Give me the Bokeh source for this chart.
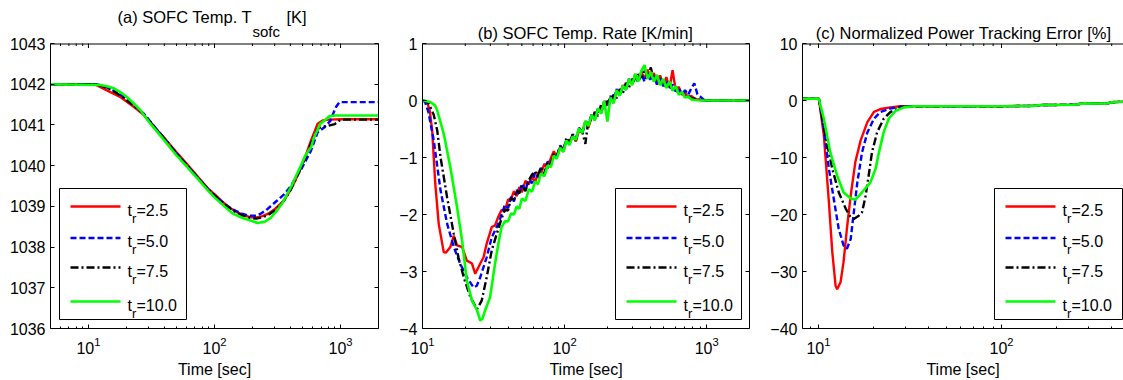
from bokeh.plotting import figure
from bokeh.layouts import row
from bokeh.models import (Range1d, LinearScale, LinearAxis, FixedTicker,
                          Label, CustomJSTickFormatter)
from bokeh.embed import file_html
from bokeh.resources import INLINE

FONT = "Liberation Sans"
SERIES_COLORS = ["#ff0000", "#0000ff", "#000000", "#00ff00"]
SERIES_DASH = ["solid", "6 3", "8 3 2 3", "solid"]
SERIES_WIDTH = [2.4, 2.4, 2.4, 2.6]
LEGEND_VALUES = ["2.5", "5.0", "7.5", "10.0"]

# ---------------- panel (a): SOFC temperature [K] ----------------
a_t_red = [5, 11, 11.7, 14, 18, 23, 27.6, 32, 40, 50, 60, 75, 90, 100, 115, 130, 150, 175, 195,
           215, 240, 270, 298, 330, 358, 404, 440, 485, 530, 583, 625, 658, 721, 800, 1000, 2000]
a_v_red = [1042, 1042, 1041.97, 1041.85, 1041.68, 1041.44, 1041.24, 1041.0, 1040.68, 1040.33,
           1040.05, 1039.7, 1039.42, 1039.3, 1039.12, 1038.98, 1038.86, 1038.77, 1038.73, 1038.73,
           1038.76, 1038.83, 1038.92, 1039.05, 1039.16, 1039.42, 1039.65, 1039.95, 1040.25,
           1040.62, 1040.85, 1041.03, 1041.11, 1041.13, 1041.14, 1041.14]

a_t_blue = [5, 11.5, 13, 15, 18, 23, 27.6, 32, 40, 50, 60, 75, 90, 100, 120, 140, 165, 190, 215,
            233, 260, 290, 316, 358, 404, 440, 485, 530, 583, 658, 750, 830, 880, 920, 980, 2000]
a_v_blue = [1042, 1042, 1041.96, 1041.88, 1041.74, 1041.49, 1041.27, 1041.03, 1040.67, 1040.3,
            1040.02, 1039.68, 1039.4, 1039.27, 1039.06, 1038.92, 1038.82, 1038.77, 1038.77,
            1038.82, 1038.92, 1039.05, 1039.15, 1039.3, 1039.5, 1039.7, 1039.9, 1040.12, 1040.37,
            1040.82, 1040.95, 1041.1, 1041.3, 1041.44, 1041.56, 1041.56]

a_t_black = [5, 11.5, 13, 15, 18, 23, 27.6, 32, 40, 50, 60, 75, 90, 100, 120, 140, 165, 190, 215,
             240, 270, 300, 330, 358, 404, 440, 485, 530, 583, 625, 660, 700, 800, 900, 1000, 2000]
a_v_black = [1042, 1042, 1041.95, 1041.87, 1041.72, 1041.47, 1041.26, 1041.02, 1040.67, 1040.3,
             1040.02, 1039.68, 1039.4, 1039.27, 1039.05, 1038.9, 1038.78, 1038.72, 1038.7,
             1038.73, 1038.8, 1038.9, 1039.02, 1039.15, 1039.42, 1039.66, 1039.95, 1040.22,
             1040.55, 1040.78, 1040.9, 1040.95, 1040.98, 1041.02, 1041.13, 1041.13]

a_t_green = [5, 12.45, 14, 15.9, 18, 20.3, 23, 26, 31, 40, 50, 60, 75, 90, 100, 120, 140, 165, 190,
             220, 250, 280, 310, 340, 370, 404, 440, 485, 530, 583, 617, 692, 815, 900, 2000]
a_v_green = [1042, 1041.98, 1041.95, 1041.9, 1041.8, 1041.68, 1041.52, 1041.35, 1041.03, 1040.62,
             1040.25, 1039.98, 1039.65, 1039.37, 1039.22, 1039.0, 1038.82, 1038.72, 1038.66,
             1038.59, 1038.62, 1038.72, 1038.88, 1039.05, 1039.25, 1039.47, 1039.72, 1040.0,
             1040.27, 1040.45, 1040.7, 1041.03, 1041.21, 1041.23, 1041.23]

# ---------------- panel (b): SOFC temperature rate [K/min] ----------------
b_t_red_early = [10, 10.8, 11.25, 11.7, 12.3, 13.0, 14.1, 14.6, 15.7, 16.6, 17.5, 19.0, 20.5,
                 22.3, 23.5, 25.5, 26.9, 28.3, 30.7, 32.4, 34]
b_v_red_early = [0, -0.03, -0.18, -0.53, -1.46, -2.16, -2.66, -2.67, -2.57, -2.37, -2.54, -2.57,
                 -2.81, -2.86, -3.04, -2.86, -2.75, -2.51, -2.22, -2.19, -2.05]
b_t_blue_early = [10, 10.4, 11.0, 12.0, 13.4, 14.9, 16.6, 18.4, 20.5, 22.9, 24.1, 25.5, 28.3,
                  30.7, 34.2]
b_v_blue_early = [0, -0.02, -0.2, -0.70, -1.58, -2.16, -2.57, -2.86, -3.10, -3.28, -3.25, -3.1,
                  -2.75, -2.4, -2.16]
b_t_black_early = [10, 10.5, 11.1, 12.0, 12.7, 13.4, 14.9, 16.6, 17.9, 19.5, 21.7, 24.2, 26.1,
                   28.3, 30.7, 33.3]
b_v_black_early = [0, -0.01, -0.06, -0.25, -0.53, -1.0, -1.7, -2.34, -2.75, -3.1, -3.45, -3.66,
                   -3.51, -3.1, -2.63, -2.34]
b_t_green_early = [10, 10.2, 11.4, 12.3, 12.7, 14.1, 15.7, 17.5, 19.0, 20.5, 22.3, 24.2, 25.5,
                   26.4, 27.6, 29.9, 32.4, 34.2]
b_v_green_early = [0, 0, -0.03, -0.09, -0.18, -0.58, -1.17, -1.87, -2.46, -3.16, -3.51, -3.68,
                   -3.86, -3.83, -3.68, -3.45, -2.86, -2.51]

b_t_tail = [36, 38, 40, 42, 44, 46, 48, 50, 53, 56, 59, 62, 65, 68, 72, 76, 80, 84, 88, 93, 98,
            103, 108, 114, 120, 126, 133, 140, 147, 155, 163, 172, 181, 190, 200, 210, 221, 232,
            244, 257, 270, 284, 299, 314, 330, 347, 365, 384, 404, 425, 447, 470, 494, 520, 547,
            575, 605, 636, 669, 704, 740, 778, 818, 860, 905, 952, 1000, 1100, 2000]
b_v_red_tail = [-1.92, -1.94, -1.74, -1.73, -1.59, -1.68, -1.52, -1.61, -1.41, -1.47,
                -1.33, -1.44, -1.26, -1.29, -1.11, -1.19, -1.01, -0.89, -0.99, -0.82,
                -0.90, -0.69, -0.73, -0.61, -0.72, -0.53, -0.56, -0.36, -0.48, -0.28,
                -0.31, -0.14, -0.21, -0.01, -0.09, 0.06, -0.04, 0.18, 0.11, 0.27,
                0.20, 0.36, 0.29, 0.46, 0.36, 0.50, 0.38, 0.54, 0.38, 0.48,
                0.29, 0.44, 0.27, 0.41, 0.22, 0.53, 0.18, 0.24, 0.10, 0.13,
                0.06, 0.08, 0.035, 0.02, 0.01, 0.005, 0, 0, 0]
b_v_blue_tail = [-2.00, -1.83, -1.89, -1.69, -1.77, -1.60, -1.64, -1.46, -1.57, -1.39,
                 -1.45, -1.26, -1.35, -1.18, -1.28, -1.07, -1.11, -0.95, -1.02, -0.79,
                 -0.86, -0.70, -0.77, -0.59, -0.67, -0.50, -0.58, -0.39, -0.42, -0.24,
                 -0.34, -0.15, -0.20, -0.03, -0.10, 0.08, -0.01, 0.20, 0.09, 0.24,
                 0.19, 0.38, 0.30, 0.42, 0.32, 0.47, 0.33, 0.49, 0.34, 0.43,
                 0.28, 0.39, 0.25, 0.35, 0.20, 0.28, 0.16, 0.22, 0.10, 0.18,
                 0.10, 0.21, 0.30, 0.11, 0.065, 0.015, 0, 0, 0]
b_v_black_tail = [-2.07, -1.92, -1.93, -1.71, -1.74, -1.57, -1.63, -1.49, -1.59, -1.40,
                  -1.30, -1.24, -1.33, -1.17, -1.29, -1.08, -1.12, -0.93, -0.97, -0.80,
                  -0.88, -0.65, -0.74, -0.60, -0.70, -0.48, -0.55, -0.76, -0.34, -0.37,
                  -0.20, -0.27, -0.06, -0.15, 0.03, -0.04, 0.10, 0.04, 0.20, 0.13,
                  0.31, 0.23, 0.38, 0.32, 0.46, 0.40, 0.55, 0.40, 0.58, 0.34,
                  0.43, 0.28, 0.36, 0.22, 0.29, 0.18, 0.22, 0.12, 0.14, 0.07,
                  0.08, 0.04, 0.03, 0.02, 0.01, 0.005, 0, 0, 0]
b_v_green_tail = [-2.22, -2.12, -2.12, -1.98, -2.00, -1.86, -1.90, -1.72, -1.76, -1.56,
                  -1.60, -1.42, -1.47, -1.28, -1.33, -1.14, -1.17, -0.97, -1.02, -0.83,
                  -0.90, -0.70, -0.78, -0.63, -0.69, -0.49, -0.57, -0.36, -0.45, -0.25,
                  -0.35, -0.14, -0.23, -0.01, -0.37, 0.05, -0.05, 0.18, 0.08, 0.26,
                  0.19, 0.38, 0.27, 0.47, 0.33, 0.52, 0.62, 0.38, 0.50, 0.33,
                  0.45, 0.27, 0.38, 0.22, 0.33, 0.17, 0.25, 0.10, 0.15, 0.05,
                  0.07, 0.02, 0.01, 0.005, 0, 0, 0, 0, 0]

# ---------------- panel (c): normalized power tracking error [%] ----------------
c_t_red = [8, 10.05, 10.7, 11.4, 11.9, 12.4, 12.65, 13.2, 13.7, 14.3, 15.0, 15.9, 17.0, 18.5,
           20.1, 21.8, 24.7, 28, 40, 60, 100, 150, 165, 250, 275, 380, 400, 470]
c_v_red = [0.3, 0.3, -6.1, -17.8, -26.6, -32.5, -33.1, -31.9, -28.4, -22.5, -16.7, -10.8, -7.0,
           -3.8, -2.0, -1.5, -1.2, -1.0, -1.0, -1.0, -1.0, -0.95, -0.8, -0.75, -0.55, -0.5,
           -0.3, -0.2]
c_t_blue = [8, 10.05, 10.7, 11.4, 12.2, 12.9, 13.7, 14.3, 15.0, 15.6, 16.3, 17.3, 18.5, 20.1,
            21.8, 24.7, 28, 31, 60, 100, 150, 165, 250, 275, 380, 400, 470]
c_v_blue = [0.3, 0.3, -5.0, -12.0, -17.8, -22.5, -25.4, -26.0, -24.3, -19.6, -14.4, -9.1, -5.6,
            -3.2, -2.0, -1.4, -1.1, -1.0, -1.0, -1.0, -0.95, -0.8, -0.75, -0.55, -0.5, -0.3, -0.2]
c_t_black = [8, 10.05, 10.9, 11.9, 12.9, 14.1, 15.0, 15.6, 16.6, 17.3, 18.1, 18.8, 19.6, 20.9,
             22.7, 24.7, 28, 31, 60, 100, 150, 165, 250, 275, 380, 400, 470]
c_v_black = [0.3, 0.3, -6.1, -12.0, -16.1, -19.0, -20.5, -20.8, -20.2, -19.6, -16.7, -13.2,
             -9.1, -5.6, -3.2, -2.05, -1.2, -1.0, -1.0, -1.0, -0.95, -0.8, -0.75, -0.55, -0.5,
             -0.3, -0.2]
c_t_green = [8, 10.05, 10.7, 11.6, 12.65, 13.7, 15.0, 15.9, 17.3, 19.2, 20.5, 21.4, 22.7, 24.2,
             26.4, 29.3, 33, 60, 100, 150, 165, 250, 275, 380, 400, 470]
c_v_green = [0.3, 0.3, -3.2, -9.1, -13.2, -16.1, -17.2, -17.4, -16.1, -14.4, -12.0, -9.1, -5.6,
             -3.2, -1.8, -1.2, -1.0, -1.0, -1.0, -0.95, -0.8, -0.75, -0.55, -0.5, -0.3, -0.2]

# ---------------- axes ticks ----------------
a_x_major = [10, 100, 1000]
a_x_minor = [6, 7, 8, 9, 20, 30, 40, 50, 60, 70, 80, 90, 200, 300, 400, 500, 600, 700, 800, 900]
a_y_ticks = [1036, 1037, 1038, 1039, 1040, 1041, 1042, 1043]
b_x_major = [10, 100, 1000]
b_x_minor = [20, 30, 40, 50, 60, 70, 80, 90, 200, 300, 400, 500, 600, 700, 800, 900]
b_y_ticks = [-4, -3, -2, -1, 0, 1]
c_x_major = [10, 100]
c_x_minor = [9, 20, 30, 40, 50, 60, 70, 80, 90, 200, 300, 400]
c_y_ticks = [-40, -30, -20, -10, 0, 10]

DATA_H = 285      # height of the boxed data area in px
TOP_PAD = 43      # space above the box (titles) inside the frame
FRAME_H = DATA_H + TOP_PAD
EMPTY = "return ''"


def style_axis(ax):
    ax.major_tick_in = 4
    ax.major_tick_out = 0
    ax.minor_tick_in = 2
    ax.minor_tick_out = 0
    ax.major_tick_line_color = "black"
    ax.minor_tick_line_color = "black"
    ax.axis_line_color = "black"
    ax.major_label_text_font = FONT
    ax.major_label_text_font_size = "16px"
    ax.major_label_text_color = "black"
    ax.axis_label_text_font = FONT
    ax.axis_label_text_font_size = "16px"
    ax.axis_label_text_font_style = "normal"
    ax.axis_label_text_color = "black"


def make_fig(width, left, right, frame_w, xr, y_lo, y_hi, x_major, x_minor, y_ticks, boxed):
    y_top = y_hi + (y_hi - y_lo) * TOP_PAD / DATA_H
    p = figure(width=width, height=380, x_axis_type="log",
               x_range=Range1d(*xr), y_range=Range1d(y_lo, y_top),
               toolbar_location=None, output_backend="svg",
               min_border_left=left, min_border_right=right,
               min_border_top=0, min_border_bottom=52)
    p.xgrid.visible = False
    p.ygrid.visible = False
    p.background_fill_color = "white"
    p.border_fill_color = "white"
    p.outline_line_color = None
    p.extra_x_ranges = {"px": Range1d(0, frame_w)}
    p.extra_x_scales = {"px": LinearScale()}
    p.extra_y_ranges = {"py": Range1d(0, FRAME_H)}
    p.extra_y_scales = {"py": LinearScale()}

    xa = p.xaxis[0]
    ya = p.yaxis[0]
    xa.ticker = FixedTicker(ticks=x_major, minor_ticks=x_minor)
    ya.ticker = FixedTicker(ticks=y_ticks)
    ya.bounds = (y_lo, y_hi)
    style_axis(xa)
    style_axis(ya)
    xa.axis_label = "Time [sec]"
    xa.major_label_standoff = 8
    xa.axis_label_standoff = 4
    ya.major_label_standoff = 5
    ya.minor_tick_line_color = None

    if boxed:
        rt = LinearAxis(ticker=FixedTicker(ticks=y_ticks), bounds=(y_lo, y_hi),
                        formatter=CustomJSTickFormatter(code=EMPTY))
        style_axis(rt)
        rt.minor_tick_line_color = None
        rt.major_label_standoff = 0
        p.add_layout(rt, "right")

    # top edge of the box with inward ticks
    p.line([0, frame_w], [DATA_H - 0.5, DATA_H - 0.5], line_color="black", line_width=1,
           x_range_name="px", y_range_name="py")
    p.segment(x0=x_major, x1=x_major, y0=[DATA_H] * len(x_major), y1=[DATA_H - 4.5] * len(x_major),
              line_color="black", line_width=1, y_range_name="py")
    p.segment(x0=x_minor, x1=x_minor, y0=[DATA_H] * len(x_minor), y1=[DATA_H - 2.5] * len(x_minor),
              line_color="black", line_width=1, y_range_name="py")
    return p


def label(p, x, y, text, size="16px", align="left"):
    p.add_layout(Label(x=x, y=y, text=text, x_range_name="px", y_range_name="py",
                       text_font=FONT, text_font_size=size, text_color="black",
                       text_align=align, text_baseline="alphabetic"))


def add_series(p, ts, vs):
    for t, v, c, d, w in zip(ts, vs, SERIES_COLORS, SERIES_DASH, SERIES_WIDTH):
        p.line(t, v, line_color=c, line_dash=d, line_width=w)


def add_legend(p, box, line_x, text_x, rows_y):
    p.quad(left=[box[0]], right=[box[1]], bottom=[box[2]], top=[box[3]],
           fill_color="white", line_color="black", line_width=1,
           x_range_name="px", y_range_name="py")
    for c, d, w, lab, y in zip(SERIES_COLORS, SERIES_DASH, SERIES_WIDTH, LEGEND_VALUES, rows_y):
        p.line(line_x, [y, y], line_color=c, line_dash=d, line_width=w,
               x_range_name="px", y_range_name="py")
        label(p, text_x, y - 3.5, "t")
        label(p, text_x + 4.5, y - 11.5, "r", size="13px")
        label(p, text_x + 9, y - 3.5, "=" + lab)


ROWS = [122, 90.5, 61, 27]

# panel (a)
pa = make_fig(390, 50, 12, 328, (5, 2000), 1036, 1043, a_x_major, a_x_minor, a_y_ticks, True)
add_series(pa, [a_t_red, a_t_blue, a_t_black, a_t_green], [a_v_red, a_v_blue, a_v_black, a_v_green])
add_legend(pa, (9, 136, 9, 140), [20, 70], 77, ROWS)
label(pa, 67, 312, "(a) SOFC Temp. T", size="16.5px")
label(pa, 202, 297, "sofc", size="15px")
label(pa, 236, 312, "[K]", size="16.5px")

# panel (b)
pb = make_fig(372, 32, 13, 327, (10, 2000), -4, 1, b_x_major, b_x_minor, b_y_ticks, True)
add_series(pb,
           [b_t_red_early + b_t_tail, b_t_blue_early + b_t_tail,
            b_t_black_early + b_t_tail, b_t_green_early + b_t_tail],
           [b_v_red_early + b_v_red_tail, b_v_blue_early + b_v_blue_tail,
            b_v_black_early + b_v_black_tail, b_v_green_early + b_v_green_tail])
add_legend(pb, (193, 319, 9, 140), [204, 254], 261, ROWS)
label(pb, 163, 296, "(b) SOFC Temp. Rate [K/min]", size="16.5px", align="center")

# panel (c)
pc = make_fig(361, 40, 0, 321, (8.18, 464), -40, 10, c_x_major, c_x_minor, c_y_ticks, False)
add_series(pc, [c_t_red, c_t_blue, c_t_black, c_t_green], [c_v_red, c_v_blue, c_v_black, c_v_green])
add_legend(pc, (192, 320, 9, 140), [203, 253], 260, ROWS)
label(pc, 161, 296, "(c) Normalized Power Tracking Error [%]", size="16.5px", align="center")

layout = row(pa, pb, pc)
open("out.html", "w").write(file_html(layout, INLINE))
